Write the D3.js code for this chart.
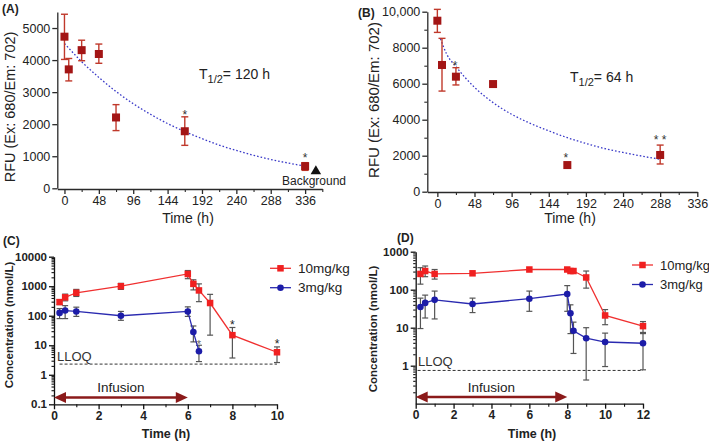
<!DOCTYPE html>
<html><head><meta charset="utf-8">
<script src="https://cdn.jsdelivr.net/npm/d3@7"></script>
<style>
body{margin:0;background:#fff;}
svg{display:block;font-family:"Liberation Sans",Arial,sans-serif;}
</style></head>
<body>
<script>
// ---------- DATA ----------
// Panel A
const timeA=[0,6,24,48,72,168,336];
const rfuA=[4730,3710,4310,4190,2210,1780,690];
const rfuALow=[4020,3350,3980,3900,1800,1340,560];
const rfuAHigh=[5430,4050,4620,4500,2610,2230,800];
const fitTimeA=[0,24,48,72,96,120,144,168,192,216,240,264,288,312,336];
const fitA=[4520,3950,3460,3020,2640,2310,2020,1770,1550,1350,1180,1030,900,790,690];
const backgroundA={time:351,value:530};
const starsA=[{time:168,value:2380,text:"*"},{time:336,value:1040,text:"*"}];
const xTicksAB=[0,48,96,144,192,240,288,336];
const xMinorA=[24,72,120,168,216,264,312,360];
const yTicksA=[0,1000,2000,3000,4000,5000];
// Panel B
const timeB=[0,6,24,72,168,288];
const rfuB=[9500,7040,6390,5980,1480,2040];
const rfuBLow=[8850,5590,5930,null,null,1540];
const rfuBHigh=[10130,8520,6890,null,null,2590];
const fitTimeB=[4,12,24,48,72,96,120,144,168,192,216,240,264,288];
const fitB=[8500,7650,6950,5800,4950,4300,3800,3380,3000,2680,2400,2180,1980,1800];
const starsB=[{time:23,value:7150,text:"*"},{time:166,value:2000,text:"*"},{time:288,value:3000,text:"* *"}];
const xMinorB=[24,72,120,168,216,264,312];
const yTicksB=[0,2000,4000,6000,8000,10000];
const yMinorB=[1000,3000,5000,7000,9000];
// Panel C
const timeC10=[0.25,0.5,1,3,6,6.25,6.5,7,8,10];
const concC10=[290,420,600,1000,2600,1200,720,270,22,5.8];
const concC10Low=[240,320,450,780,1800,750,300,22,3.7,2.6];
const concC10High=[350,540,780,1250,3400,1650,1200,530,40,8.8];
const timeC3=[0.25,0.5,1,3,6,6.25,6.5];
const concC3=[125,150,140,100,140,28,6.3];
const concC3Low=[80,80,95,70,95,13,2.8];
const concC3High=[175,220,195,140,200,45,10];
const starsC=[{time:8,value:60,text:"*"},{time:10,value:13.5,text:"*"},{time:6.5,value:13,text:"*"}];
const lloqC=2.3, infusionEndC=6;
const xTicksC=[0,2,4,6,8,10], xMinorC=[1,3,5,7,9];
const yTicksC=[0.1,1,10,100,1000,10000];
// Panel D
const timeD10=[0.25,0.5,1,3,6,8,8.17,8.33,9,10,12];
const concD10=[260,310,260,270,340,340,310,310,210,21,11];
const concD10Low=[140,220,190,null,null,null,null,null,110,12,7.5];
const concD10High=[380,420,340,null,null,null,null,null,310,30,14.5];
const timeD3=[0.25,0.5,1,3,6,8,8.17,8.33,9,10,12];
const concD3=[35,45,54,42,58,77,24,8.3,5.3,4.2,3.9];
const concD3Low=[9.5,18,17,25,27,27,7,2.1,0.42,0.95,0.78];
const concD3High=[60,72,92,60,92,128,40,14,10,7.2,7];
const lloqD=0.75, infusionEndD=8;
const xTicksD=[0,2,4,6,8,10,12], xMinorD=[1,3,5,7,9,11];
const yTicksD=[1,10,100,1000];
const seriesNames=["10mg/kg","3mg/kg"];

// ---------- DRAWING ----------
const W=709,H=442;
const svg=d3.select("body").append("svg").attr("width",W).attr("height",H);
const AXC="#2a2a2a";

function logMinors(lo,hi){const r=[];for(let e=Math.round(Math.log10(lo));e<Math.round(Math.log10(hi));e++){for(let k=2;k<=9;k++)r.push(k*Math.pow(10,e));}return r;}

function drawAxis(gen,pos,majors,minors,fmt,font,bold,majorSize,minorSize,color){
  const g=svg.append("g").attr("transform",pos);
  g.call(gen.tickValues(majors).tickFormat(fmt).tickSize(majorSize).tickSizeOuter(0).tickPadding(2));
  g.select(".domain").attr("stroke",color).attr("stroke-width",1.3);
  g.selectAll(".tick line").attr("stroke",color).attr("stroke-width",1.3);
  g.selectAll(".tick text").attr("fill","#222").style("font-size",font+"px").style("font-weight",bold?"bold":"normal").style("font-family","'Liberation Sans',Arial,sans-serif");
  if(minors&&minors.length){
    const m=svg.append("g").attr("transform",pos);
    m.call(gen.tickValues(minors).tickFormat("").tickSize(minorSize).tickSizeOuter(0));
    m.select(".domain").remove();
    m.selectAll(".tick line").attr("stroke",color).attr("stroke-width",1.1);
  }
}
function errBars(x,y,ts,lo,hi,color,cap,width){
  ts.forEach((t,i)=>{
    if(lo[i]==null)return;
    const cx=x(t),y1=y(lo[i]),y2=y(hi[i]);
    const g=svg.append("g").attr("stroke",color).attr("stroke-width",width);
    g.append("line").attr("x1",cx).attr("x2",cx).attr("y1",y1).attr("y2",y2);
    g.append("line").attr("x1",cx-cap).attr("x2",cx+cap).attr("y1",y1).attr("y2",y1);
    g.append("line").attr("x1",cx-cap).attr("x2",cx+cap).attr("y1",y2).attr("y2",y2);
  });
}
function squares(x,y,ts,vs,color,s){
  svg.append("g").selectAll("rect").data(ts).join("rect")
    .attr("x",(t)=>x(t)-s/2).attr("y",(t,i)=>y(vs[i])-s/2).attr("width",s).attr("height",s).attr("fill",color);
}
function circles(x,y,ts,vs,color,r){
  svg.append("g").selectAll("circle").data(ts).join("circle")
    .attr("cx",t=>x(t)).attr("cy",(t,i)=>y(vs[i])).attr("r",r).attr("fill",color);
}
function stars(x,y,list,fs,color){
  list.forEach(s=>{
    svg.append("text").attr("x",x(s.time)).attr("y",y(s.value)+fs*0.55).attr("text-anchor","middle")
      .style("font-size",fs+"px").attr("fill",color).text(s.text);
  });
}
function txt(x,y,s,opt){
  const t=svg.append("text").attr("x",x).attr("y",y).text(s).style("font-size",(opt.fs||13)+"px").attr("fill",opt.fill||"#222");
  if(opt.anchor)t.attr("text-anchor",opt.anchor);
  if(opt.bold)t.style("font-weight","bold");
  if(opt.rot!=null)t.attr("transform",`rotate(${opt.rot},${x},${y})`);
  return t;
}

// ===== Panel A =====
const xA=d3.scaleLinear().domain([-10,360]).range([57.3,322.3]);
const yA=d3.scaleLinear().domain([0,5500]).range([188.3,12]);
drawAxis(d3.axisBottom(xA),"translate(0,189)",xTicksAB,xMinorA,d=>d,12.5,false,5,3,AXC);
drawAxis(d3.axisLeft(yA),"translate(57.3,0)",yTicksA,[],d=>d,12.5,false,5,3,AXC);
svg.append("path").datum(fitTimeA.map((t,i)=>[t,fitA[i]]))
  .attr("d",d3.line().x(d=>xA(d[0])).y(d=>yA(d[1])).curve(d3.curveMonotoneX))
  .attr("fill","none").attr("stroke","#3a3ac8").attr("stroke-width",1.3).attr("stroke-dasharray","1.6,2");
errBars(xA,yA,timeA,rfuALow,rfuAHigh,"#c0392b",3.5,1.4);
squares(xA,yA,timeA,rfuA,"#a31515",8);
stars(xA,yA,starsA,12,"#333");
svg.append("path").attr("d",d3.symbol(d3.symbolTriangle,48)()).attr("transform",`translate(${xA(backgroundA.time)},${yA(backgroundA.value)})`).attr("fill","#111");
txt(314,185,"Background",{fs:12,anchor:"middle"});
const tA=txt(199,79,"T",{fs:14});
tA.append("tspan").attr("dy",4).style("font-size","11px").text("1/2");
tA.append("tspan").attr("dy",-4).text("= 120 h");
txt(2,13,"(A)",{fs:12,bold:true});
txt(10,107,"RFU (Ex: 680/Em: 702)",{fs:14.5,anchor:"middle",rot:-90}).attr("dy","0.35em");
txt(188,223,"Time (h)",{fs:14,anchor:"middle"});

// ===== Panel B =====
const xB=d3.scaleLinear().domain([-13,336]).range([427.3,697.3]);
const yB=d3.scaleLinear().domain([0,10000]).range([191.7,11.7]);
drawAxis(d3.axisBottom(xB),"translate(0,192)",xTicksAB,xMinorB,d=>d,12.5,false,5,3,AXC);
drawAxis(d3.axisLeft(yB),"translate(427.3,0)",yTicksB,yMinorB,d=>d>=10000?d3.format(",")(d):d,12.5,false,5,3,AXC);
svg.append("path").datum(fitTimeB.map((t,i)=>[t,fitB[i]]))
  .attr("d",d3.line().x(d=>xB(d[0])).y(d=>yB(d[1])).curve(d3.curveMonotoneX))
  .attr("fill","none").attr("stroke","#3a3ac8").attr("stroke-width",1.3).attr("stroke-dasharray","1.6,2");
errBars(xB,yB,timeB,rfuBLow,rfuBHigh,"#c0392b",3.5,1.4);
squares(xB,yB,timeB,rfuB,"#a31515",8);
stars(xB,yB,starsB,12,"#333");
const tB=txt(570,82,"T",{fs:14});
tB.append("tspan").attr("dy",4).style("font-size","11px").text("1/2");
tB.append("tspan").attr("dy",-4).text("= 64 h");
txt(358,17,"(B)",{fs:12,bold:true});
txt(374,100,"RFU (Ex: 680/Em: 702)",{fs:15,anchor:"middle",rot:-90}).attr("dy","0.35em");
txt(570,223,"Time (h)",{fs:14,anchor:"middle"});

// ===== Panel C =====
const xC=d3.scaleLinear().domain([0,10]).range([54,277]);
const yC=d3.scaleLog().domain([0.1,10000]).range([404.3,256.7]);
drawAxis(d3.axisBottom(xC),"translate(0,404.3)",xTicksC,xMinorC,d=>d,12,true,5,3,"#111");
drawAxis(d3.axisLeft(yC),"translate(54,0)",yTicksC,logMinors(0.1,10000),d=>d,11.5,true,5,2.5,"#111");
svg.append("line").attr("x1",xC(0.25)).attr("x2",xC(10)).attr("y1",yC(lloqC)).attr("y2",yC(lloqC)).attr("stroke","#333").attr("stroke-width",1).attr("stroke-dasharray","3,2");
txt(57,361,"LLOQ",{fs:13,fill:"#333"});
function infusion(x,y,t1,v,label){
  const y0=y(v),x0=x(0),x1=x(t1);
  svg.append("line").attr("x1",x0+8).attr("x2",x1-8).attr("y1",y0).attr("y2",y0).attr("stroke","#8b1a1a").attr("stroke-width",2.4);
  svg.append("path").attr("d",`M${x0},${y0}L${x0+12},${y0-5.5}L${x0+12},${y0+5.5}Z`).attr("fill","#8b1a1a");
  svg.append("path").attr("d",`M${x1},${y0}L${x1-12},${y0-5.5}L${x1-12},${y0+5.5}Z`).attr("fill","#8b1a1a");
  txt((x0+x1)/2,y0-5,label,{fs:13.5,anchor:"middle"});
}
infusion(xC,yC,infusionEndC,0.17,"Infusion");
const lineC=d3.line().x(d=>xC(d[0])).y(d=>yC(d[1]));
errBars(xC,yC,timeC10,concC10Low,concC10High,"#555",3,1.2);
errBars(xC,yC,timeC3,concC3Low,concC3High,"#555",3,1.2);
svg.append("path").datum(timeC10.map((t,i)=>[t,concC10[i]])).attr("d",lineC).attr("fill","none").attr("stroke","#f03030").attr("stroke-width",1.3);
svg.append("path").datum(timeC3.map((t,i)=>[t,concC3[i]])).attr("d",lineC).attr("fill","none").attr("stroke","#2a2ab0").attr("stroke-width",1.3);
squares(xC,yC,timeC10,concC10,"#f02020",6.5);
circles(xC,yC,timeC3,concC3,"#1c1ca8",3.3);
stars(xC,yC,starsC.slice(0,2),12,"#222");
stars(xC,yC,starsC.slice(2),11,"#666");
function legend(x0,y0,dy,fs){
  svg.append("line").attr("x1",x0).attr("x2",x0+21).attr("y1",y0).attr("y2",y0).attr("stroke","#f03030").attr("stroke-width",1.3);
  svg.append("rect").attr("x",x0+10.5-3.25).attr("y",y0-3.25).attr("width",6.5).attr("height",6.5).attr("fill","#f02020");
  txt(x0+28,y0+4.5,seriesNames[0],{fs:fs});
  svg.append("line").attr("x1",x0).attr("x2",x0+21).attr("y1",y0+dy).attr("y2",y0+dy).attr("stroke","#2a2ab0").attr("stroke-width",1.3);
  svg.append("circle").attr("cx",x0+10.5).attr("cy",y0+dy).attr("r",3.3).attr("fill","#1c1ca8");
  txt(x0+28,y0+dy+4.5,seriesNames[1],{fs:fs});
}
legend(270,268.3,19.4,13.5);
txt(3,245,"(C)",{fs:12,bold:true});
txt(9,325,"Concentration  (nmol/L)",{fs:11.5,bold:true,anchor:"middle",rot:-90}).attr("dy","0.35em");
txt(166,438,"Time (h)",{fs:12.5,bold:true,anchor:"middle"});

// ===== Panel D =====
const xD=d3.scaleLinear().domain([0,12]).range([415.7,643]);
const yD=d3.scaleLog().domain([0.1,1000]).range([403.7,251.7]);
drawAxis(d3.axisBottom(xD),"translate(0,403.7)",xTicksD,xMinorD,d=>d,12,true,5,3,"#111");
drawAxis(d3.axisLeft(yD),"translate(415.7,0)",yTicksD,logMinors(0.1,1000),d=>d,11.5,true,5,2.5,"#111");
svg.append("line").attr("x1",xD(0.1)).attr("x2",xD(12)).attr("y1",yD(lloqD)).attr("y2",yD(lloqD)).attr("stroke","#333").attr("stroke-width",1).attr("stroke-dasharray","3,2");
txt(418,366,"LLOQ",{fs:13,fill:"#333"});
infusion(xD,yD,infusionEndD,0.15,"Infusion");
const lineD=d3.line().x(d=>xD(d[0])).y(d=>yD(d[1]));
errBars(xD,yD,timeD10,concD10Low,concD10High,"#555",3,1.2);
errBars(xD,yD,timeD3,concD3Low,concD3High,"#555",3,1.2);
svg.append("path").datum(timeD10.map((t,i)=>[t,concD10[i]])).attr("d",lineD).attr("fill","none").attr("stroke","#f03030").attr("stroke-width",1.3);
svg.append("path").datum(timeD3.map((t,i)=>[t,concD3[i]])).attr("d",lineD).attr("fill","none").attr("stroke","#2a2ab0").attr("stroke-width",1.3);
squares(xD,yD,timeD10,concD10,"#f02020",6.5);
circles(xD,yD,timeD3,concD3,"#1c1ca8",3.3);
legend(632,265,19.5,13);
txt(397,242,"(D)",{fs:12,bold:true});
txt(373,329,"Concentration  (nmol/L)",{fs:11.5,bold:true,anchor:"middle",rot:-90}).attr("dy","0.35em");
txt(532,438,"Time (h)",{fs:12.5,bold:true,anchor:"middle"});
</script>
</body></html>
